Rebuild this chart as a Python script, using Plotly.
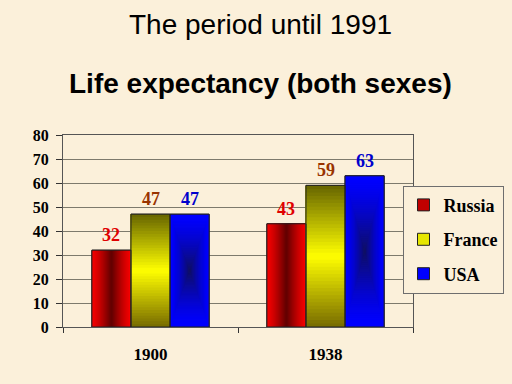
import plotly.graph_objects as go

# ---------------- data ----------------
categories = ["1900", "1938"]
series_names = ["Russia", "France", "USA"]
russia = [32, 43]
france = [47, 59]
usa = [47, 63]
title_main = "The period until 1991"
title_sub = "Life expectancy (both sexes)"

# ---------------- style ----------------
BG = "#fbf0da"
GRID = "#7d7a6c"
SERIF = "Liberation Serif"
SANS = "Liberation Sans"
GROUP_W = 0.67
BAR_W = GROUP_W / 3
OFFSETS = [-GROUP_W / 2 + i * BAR_W for i in range(3)]
LABEL_COLORS = ["#e00000", "#993300", "#0000cc"]
BASE_COLORS = ["#c00000", "#e6e600", "#0000ff"]


def mix(c1, c2, t):
    return "rgb(%d,%d,%d)" % tuple(round(a + (b - a) * t) for a, b in zip(c1, c2))


fig = go.Figure()
values = [russia, france, usa]

# base bars (legend entries)
for i, name in enumerate(series_names):
    fig.add_trace(go.Bar(
        x=categories, y=values[i], name=name, offset=OFFSETS[i], width=BAR_W,
        marker=dict(color=BASE_COLORS[i], line=dict(color="#222", width=1)),
        legendgroup=name, showlegend=True, hoverinfo="skip"))

K = 40

# Russia: horizontal gradient (red edges, dark centre)
red, dark_red = (245, 0, 0), (95, 0, 0)
for j in range(K):
    t0 = j / K
    tc = (j + 0.5) / K
    d = max(0.0, 1 - abs(tc - 0.5) / 0.5)
    fig.add_trace(go.Bar(
        x=categories, y=russia, offset=OFFSETS[0] + BAR_W * t0, width=BAR_W * (1 - t0),
        marker=dict(color=mix(red, dark_red, d ** 1.3), line=dict(width=0)),
        legendgroup="Russia", showlegend=False, hoverinfo="skip"))

# France: vertical gradient (olive top/bottom, yellow middle)
yellow, olive_top, olive_bot = (255, 255, 0), (102, 100, 0), (118, 106, 0)
for j in range(K):
    t0 = j / K
    tc = (j + 0.5) / K
    if tc < 0.5:
        col = mix(olive_bot, yellow, tc / 0.5)
    else:
        col = mix(yellow, olive_top, (tc - 0.5) / 0.5)
    fig.add_trace(go.Bar(
        x=categories, y=[v * (1 - t0) for v in france], base=[v * t0 for v in france],
        offset=OFFSETS[1], width=BAR_W,
        marker=dict(color=col, line=dict(width=0)),
        legendgroup="France", showlegend=False, hoverinfo="skip"))

# USA: centre (radial-like) gradient
blue, navy = (0, 0, 255), (15, 15, 95)
for j in range(K):
    s = 1 - j / K
    d = (1 - s) ** 1.4
    fig.add_trace(go.Bar(
        x=categories, y=[v * s for v in usa], base=[v * (1 - s) / 2 for v in usa],
        offset=OFFSETS[2] + BAR_W * (1 - s) / 2, width=BAR_W * s,
        marker=dict(color=mix(blue, navy, d), line=dict(width=0)),
        legendgroup="USA", showlegend=False, hoverinfo="skip"))

# outlines on top
for i, name in enumerate(series_names):
    fig.add_trace(go.Bar(
        x=categories, y=values[i], offset=OFFSETS[i], width=BAR_W,
        marker=dict(color="rgba(0,0,0,0)", line=dict(color="#222", width=1)),
        legendgroup=name, showlegend=False, hoverinfo="skip"))

# value labels
annotations = []
for i in range(3):
    for k, v in enumerate(values[i]):
        annotations.append(dict(
            x=k + OFFSETS[i] + BAR_W / 2, y=v, xref="x", yref="y",
            text=str(v), showarrow=False, yanchor="middle", yshift=15,
            font=dict(family=SERIF, size=18, color=LABEL_COLORS[i], weight="bold")))

# titles
annotations.append(dict(x=0.563, y=1.574, xref="paper", yref="paper", text=title_main,
                        showarrow=False, yanchor="middle",
                        font=dict(family=SANS, size=28, color="black", weight="normal")))
annotations.append(dict(x=0.563, y=1.266, xref="paper", yref="paper", text=title_sub,
                        showarrow=False, yanchor="middle",
                        font=dict(family=SANS, size=28, color="black", weight="bold")))

fig.update_layout(
    width=512, height=384,
    margin=dict(l=63, r=99, t=135, b=57, autoexpand=False),
    paper_bgcolor=BG, plot_bgcolor=BG,
    barmode="overlay",
    font=dict(family=SERIF, size=16, color="black", weight="bold"),
    annotations=annotations,
    legend=dict(x=0.97, y=0.736, xanchor="left", yanchor="top",
                bgcolor=BG, bordercolor="#6e6e6e", borderwidth=1,
                font=dict(family=SERIF, size=18, color="black", weight="bold"),
                traceorder="grouped", tracegroupgap=8, itemwidth=30),
    xaxis=dict(type="category", showline=True, linecolor="#555", linewidth=1, mirror=True,
               ticks="outside", tickson="boundaries", ticklen=5, tickcolor="#333",
               ticklabelstandoff=12, tickfont=dict(size=17), showgrid=False),
    yaxis=dict(range=[0, 80], dtick=10, showgrid=True, gridcolor=GRID, gridwidth=1,
               showline=True, linecolor="#555", linewidth=1, mirror=True,
               ticks="outside", ticklen=6, tickcolor="#333", zeroline=False,
               ticklabelstandoff=4, tickfont=dict(size=16)),
)

fig.write_html("out.html", config={"displayModeBar": False},
               post_script="document.body.style.margin='0';document.body.style.background='%s';" % BG)
